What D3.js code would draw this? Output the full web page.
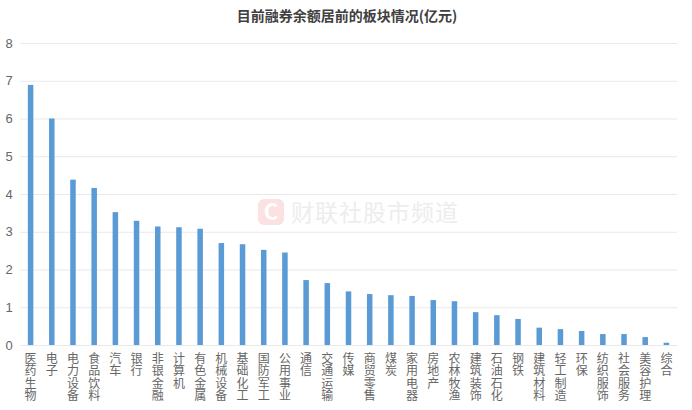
<!DOCTYPE html>
<meta charset="utf-8">
<style>
body { margin:0; background:#fff; font-family:"Noto Sans CJK SC", "Noto Sans", sans-serif; }
.grid line { stroke:#e9e9e9; stroke-width:1; }
.grid path { display:none; }
.yaxis text { fill:#666; font-size:13px; font-family:"Liberation Sans", sans-serif; }
.yaxis path, .yaxis line { display:none; }
.cat text { fill:#666; font-size:12px; writing-mode:vertical-rl; text-orientation:upright; letter-spacing:0.6px; }
.title { font-size:14px; font-weight:bold; fill:#404040; text-anchor:middle; }
</style>
<body>
<script src="https://d3js.org/d3.v7.min.js"></script>
<script>

var sectors = ["医药生物","电子","电力设备","食品饮料","汽车","银行","非银金融","计算机","有色金属","机械设备",
	"基础化工","国防军工","公用事业","通信","交通运输","传媒","商贸零售","煤炭","家用电器","房地产",
	"农林牧渔","建筑装饰","石油石化","钢铁","建筑材料","轻工制造","环保","纺织服饰","社会服务","美容护理","综合"];
var balance = [6.89,6.00,4.38,4.16,3.52,3.29,3.14,3.12,3.08,2.70,
	2.67,2.52,2.45,1.72,1.64,1.42,1.35,1.32,1.30,1.19,
	1.16,0.87,0.79,0.69,0.46,0.42,0.37,0.29,0.29,0.21,0.06];
var yTicks = [0,1,2,3,4,5,6,7,8];
var title = "目前融券余额居前的板块情况(亿元)";
var watermark = "财联社股市频道";

var W = 692, H = 410;
var m = {left:20, right:15, top:43, bottom:65};

var svg = d3.select("body").append("svg").attr("width", W).attr("height", H);

var x = d3.scaleBand().domain(sectors).range([m.left, W - m.right]).paddingInner(0.74).paddingOuter(0.37);
var y = d3.scaleLinear().domain([0, 8]).range([H - m.bottom, m.top]);

svg.append("text").attr("class","title").attr("x", 347).attr("y", 21).text(title);

// gridlines
svg.append("g").attr("class","grid")
	.attr("transform","translate(" + m.left + ",0)")
	.call(d3.axisLeft(y).tickValues(yTicks).tickSize(-(W - m.left - m.right)).tickFormat(""));

svg.append("g").attr("class","yaxis")
	.attr("transform","translate(12,0)")
	.call(d3.axisLeft(y).tickValues(yTicks).tickSize(0).tickPadding(0))
	.selectAll("text").attr("text-anchor","middle").attr("dx","-3");

// watermark
var wm = svg.append("g").attr("opacity", 0.9);
wm.append("rect").attr("x",258).attr("y",199).attr("width",26).attr("height",26).attr("rx",6).attr("fill","#fbdede");
wm.append("text").attr("x",271).attr("y",220).attr("text-anchor","middle")
	.attr("font-size","22px").attr("font-weight","bold").attr("fill","#fff").text("C");
wm.append("text").attr("x",291).attr("y",221).attr("font-size","23px").attr("fill","#ececec")
	.attr("letter-spacing","1px").text(watermark);

// bars
svg.append("g").selectAll("rect").data(sectors).join("rect")
	.attr("x", d => x(d))
	.attr("width", x.bandwidth())
	.attr("y", (d,i) => y(balance[i]))
	.attr("height", (d,i) => y(0) - y(balance[i]))
	.attr("fill", "#5b9bd5");

// vertical category labels
svg.append("g").attr("class","cat").selectAll("text").data(sectors).join("text")
	.attr("x", d => x(d) + x.bandwidth()/2)
	.attr("y", 352)
	.text(d => d);

</script>
</body>
